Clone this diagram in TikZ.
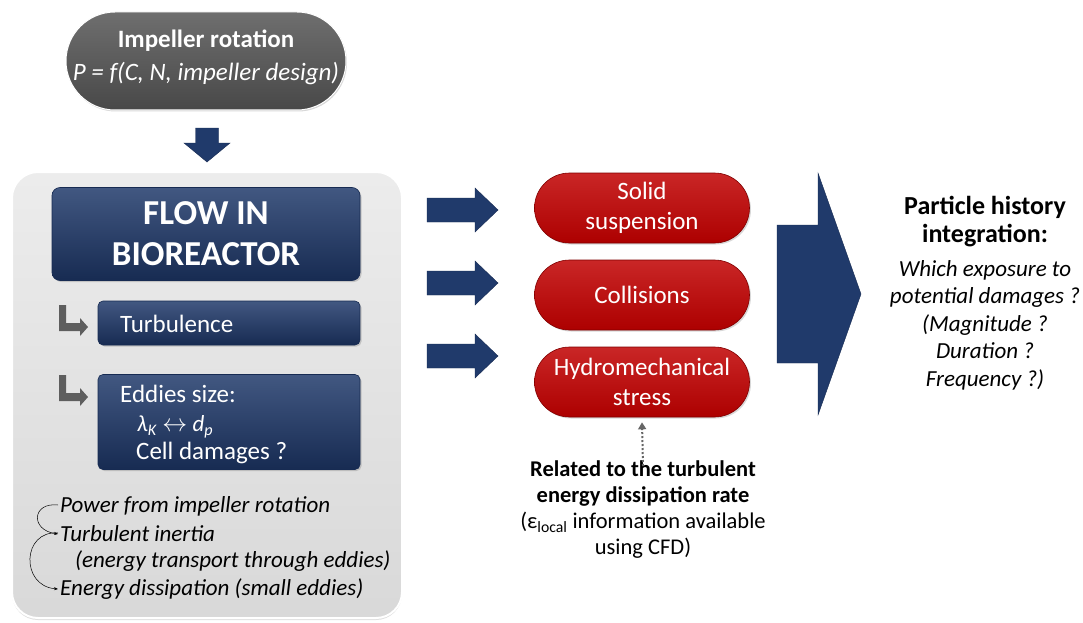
\documentclass[tikz,border=0pt]{standalone}
\usepackage{fontspec}
\setmainfont{Carlito}
\usetikzlibrary{arrows.meta,shadows}
\definecolor{navy}{HTML}{203A6B}
\definecolor{navyd}{HTML}{172B52}
\definecolor{pillgrey}{HTML}{555555}
\definecolor{redpill}{HTML}{C00000}
\definecolor{boxgrey}{HTML}{E4E4E4}
\definecolor{lgrey}{HTML}{5E5E5E}
\tikzset{
  navybox/.style={draw=navyd, line width=0.6pt, top color=navy!85!white, bottom color=navyd, rounded corners=8pt, text=white, drop shadow={opacity=0.35, shadow xshift=1.5pt, shadow yshift=-1.5pt}},
  redbox/.style={draw=red!50!black, line width=0.6pt, top color=redpill!85!white, bottom color=redpill!90!black, rounded corners=35pt, text=white, minimum width=215pt, minimum height=70pt, align=center, font=\fontsize{25}{30}\selectfont, drop shadow={opacity=0.3, shadow xshift=1.5pt, shadow yshift=-1.5pt}},
  blockarrow/.style={fill=navy, draw=navyd, line width=0.4pt},
  lline/.style={fill=lgrey, draw=none},
  itline/.style={anchor=west, inner sep=0pt, font=\fontsize{23}{26}\selectfont\itshape},
  wtext/.style={anchor=west, text=white, font=\fontsize{25}{28}\selectfont, inner sep=0pt},
  curv/.style={-{Stealth[length=4pt,width=3pt]}, line width=0.5pt, black}
}
\begin{document}
\begin{tikzpicture}[x=1pt,y=-1pt]
\useasboundingbox (0,0) rectangle (1083,623);
\fill[white] (0,0) rectangle (1083,623);

% top grey pill
\node[draw=white, line width=1pt, top color=pillgrey!85!white, bottom color=pillgrey!85!black, rounded corners=49pt, minimum width=280pt, minimum height=98pt, drop shadow={opacity=0.3, shadow xshift=1pt, shadow yshift=-1.5pt}] (imp) at (206,61) {};
\node[text=white, font=\fontsize{25}{28}\selectfont\bfseries, inner sep=0pt] (impt) at (206,41) {Impeller rotation};
\node[text=white, font=\fontsize{25}{28}\selectfont\itshape, inner sep=0pt] (impf) at (206,74) {P = f(C, N, impeller design)};

% down arrow
\coordinate (da) at (207,128);
\fill[blockarrow] ([xshift=-11.5pt]da) -- ([xshift=11.5pt]da) -- ([xshift=11.5pt,yshift=-15pt]da) -- ([xshift=23pt,yshift=-15pt]da) -- ([yshift=-34pt]da) -- ([xshift=-23pt,yshift=-15pt]da) -- ([xshift=-11.5pt,yshift=-15pt]da) -- cycle;

% big grey box
\node[draw=white, line width=2pt, top color=boxgrey!70!white, bottom color=boxgrey!95!black, rounded corners=26pt, minimum width=390pt, minimum height=446pt, drop shadow={opacity=0.25, shadow xshift=0pt, shadow yshift=-2pt}] (big) at (207,395) {};

% flow box
\node[navybox, minimum width=308pt, minimum height=93pt, align=center, font=\fontsize{35}{41}\selectfont\bfseries] (flow) at (206,234) {FLOW IN\\BIOREACTOR};

% turbulence box
\node[navybox, rounded corners=5pt, minimum width=262pt, minimum height=44pt] (turb) at (229,323) {};
\node[wtext] (turbt) at (120,324) {Turbulence};

% eddies box
\node[navybox, rounded corners=5pt, minimum width=262pt, minimum height=95pt] (edd) at (229,422) {};
\node[wtext] (edd1) at (120,394) {Eddies size:};
\node[wtext, font=\fontsize{23}{26}\selectfont] (edd2) at (137,427) {\textit{λ}\textsubscript{\textit{K}} $\leftrightarrow$ \textit{d}\textsubscript{\textit{p}}};
\node[wtext] (edd3) at (136,453) {Cell damages ?};

% L arrows
\foreach \n/\dy in {L1/0,L2/70}{
  \coordinate (\n) at (59,305+\dy);
  \fill[lline] (\n) -- ([xshift=7pt]\n) -- ([xshift=7pt,yshift=-18pt]\n) -- ([xshift=21pt,yshift=-18pt]\n) -- ([xshift=21pt,yshift=-13pt]\n) -- ([xshift=29pt,yshift=-22pt]\n) -- ([xshift=21pt,yshift=-31pt]\n) -- ([xshift=21pt,yshift=-26pt]\n) -- ([yshift=-26pt]\n) -- cycle;
}

% bottom italic lines
\node[itline] (l1) at (60,506) {Power from impeller rotation};
\node[itline] (l2) at (60,534) {Turbulent inertia};
\node[itline] (l3) at (75,561) {(energy transport through eddies)};
\node[itline] (l4) at (60,589) {Energy dissipation (small eddies)};
\draw[curv] ([xshift=-2pt,yshift=1pt]l1.west) .. controls (32,502) and (30,530) .. ([xshift=-2pt]l2.west);
\draw[curv] ([xshift=-2pt,yshift=1pt]l2.west) .. controls (22,530) and (20,586) .. ([xshift=-2pt]l4.west);

% three block arrows
\foreach \n/\y in {a1/210,a2/283,a3/356}{
  \coordinate (\n) at (427,\y);
  \fill[blockarrow] ([yshift=-12pt]\n) -- ([xshift=48pt,yshift=-12pt]\n) -- ([xshift=48pt,yshift=-22pt]\n) -- ([xshift=71pt]\n) -- ([xshift=48pt,yshift=22pt]\n) -- ([xshift=48pt,yshift=12pt]\n) -- ([yshift=12pt]\n) -- cycle;
}

% red pills
\node[redbox] (p1) at (642,208) {Solid\\suspension};
\node[redbox] (p2) at (642,295) {Collisions};
\node[redbox] (p3) at (642,382) {Hydromechanical\\stress};

% related text
\node[align=center, font=\fontsize{22.5}{26}\selectfont, inner sep=0pt, anchor=north] (rel) at (643,461) {\textbf{Related to the turbulent}\\\textbf{energy dissipation rate}\\(ε\textsubscript{local} information available\\using CFD)};
\draw[dotted, line width=2pt, draw=gray!80!black, -{Triangle[length=7pt,width=8pt]}] ([yshift=-5pt]rel.north) -- ([yshift=-5pt]p3.south);

% big arrow
\coordinate (ba) at (777,294);
\fill[blockarrow] ([yshift=-69pt]ba) -- ([xshift=41pt,yshift=-69pt]ba) -- ([xshift=41pt,yshift=-121pt]ba) -- ([xshift=84pt]ba) -- ([xshift=41pt,yshift=121pt]ba) -- ([xshift=41pt,yshift=69pt]ba) -- ([yshift=69pt]ba) -- cycle;

% right text
\node[align=center, font=\fontsize{26}{28}\selectfont\bfseries, inner sep=0pt, anchor=north] (ph) at (985,196) {Particle history\\integration:};
\node[align=center, font=\fontsize{23}{27.5}\selectfont\itshape, inner sep=0pt, anchor=north] (phq) at (985,260) {Which exposure to\\potential damages ?\\(Magnitude ?\\Duration ?\\Frequency ?)};
\end{tikzpicture}
\end{document}
